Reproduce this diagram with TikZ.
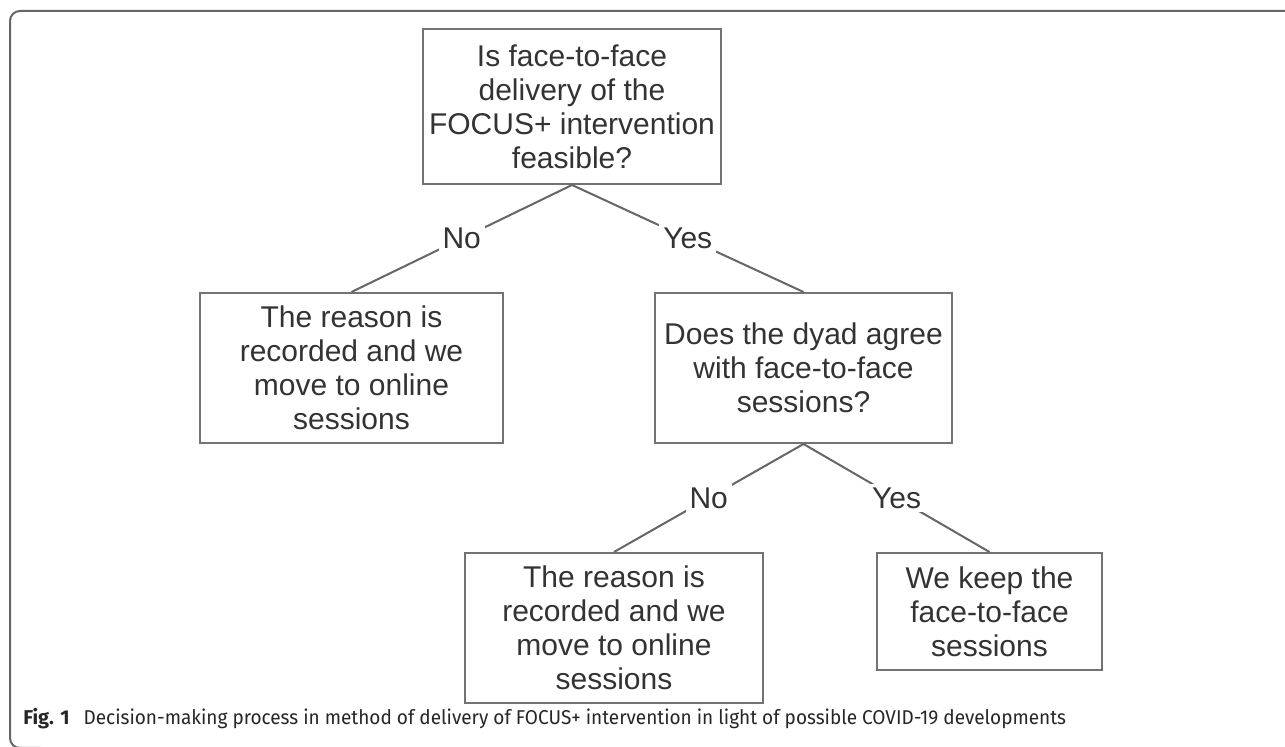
\documentclass[tikz,border=0pt]{standalone}
\usepackage{fontspec}
\setmainfont{Liberation Sans}
\newfontfamily\capfont[FakeStretch=0.95]{Fira Sans}
\newfontfamily\figfont{Fira Sans}
\usetikzlibrary{positioning}

\tikzset{
  qbox/.style={draw=black!55, line width=1pt, rectangle, align=center, inner sep=0pt, text=black!80, font=\fontsize{15}{17}\selectfont},
  ans/.style={fill=white, inner sep=2pt, text=black!80, font=\fontsize{15}{17}\selectfont},
  link/.style={draw=black!60, line width=1pt}
}

\begin{document}
\begin{tikzpicture}[x=0.5pt, y=-0.5pt]
    % Page and frame
    \clip (0,0) rectangle (1285,747);
    \fill[white] (0,0) rectangle (1285,747);
    \draw[black!60, line width=1pt, rounded corners=5pt] (1300,11) -- (10,11) -- (10,748) -- (40,748);

    % Questions and outcomes
    \node[qbox, minimum width=149pt, minimum height=77.5pt] (Feas) at (572,106.5) {Is face-to-face\\delivery of the\\FOCUS+ intervention\\feasible?};
    \node[qbox, minimum width=151.5pt, minimum height=75pt] (Rec1) at (351.5,368) {The reason is\\recorded and we\\move to online\\sessions};
    \node[qbox, minimum width=148.5pt, minimum height=75pt, right=75pt of Rec1.north east, anchor=north west] (Agree) {Does the dyad agree\\with face-to-face\\sessions?};
    \node[qbox, minimum width=149pt, minimum height=75pt] (Rec2) at (614,628) {The reason is\\recorded and we\\move to online\\sessions};
    \node[qbox, minimum width=112.5pt, minimum height=58.5pt, right=56pt of Rec2.north east, anchor=north west] (Keep) {We keep the\\face-to-face\\sessions};

    % Decisions
    \draw[link] (Feas.south) -- node[ans] {No} (Rec1.north);
    \draw[link] (Feas.south) -- node[ans] {Yes} (Agree.north);
    \draw[link] (Agree.south) -- node[ans] {No} (Rec2.north);
    \draw[link] (Agree.south) -- node[ans] {Yes} (Keep.north);

    % Caption
    \node[anchor=west, inner sep=0pt, text=black!85, font=\capfont\fontsize{10}{12}\selectfont] (Cap) at (23,719) {{\figfont\bfseries Fig. 1}\hspace{0.7em}Decision-making process in method of delivery of FOCUS+ intervention in light of possible COVID-19 developments};
\end{tikzpicture}
\end{document}
